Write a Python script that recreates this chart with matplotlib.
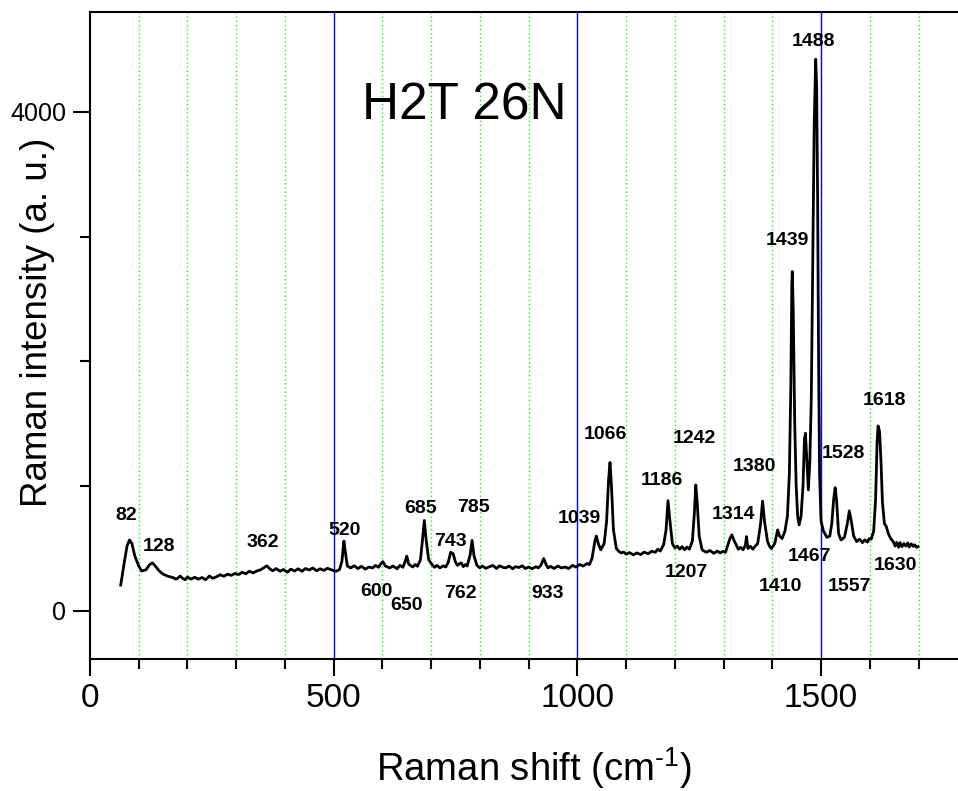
import matplotlib
matplotlib.use("Agg")
import matplotlib.pyplot as plt
from matplotlib.ticker import FixedLocator, MultipleLocator

plt.rcParams['font.family'] = ['Liberation Sans', 'DejaVu Sans']
plt.rcParams['mathtext.fontset'] = 'custom'
plt.rcParams['mathtext.rm'] = 'Liberation Sans'
plt.rcParams['mathtext.it'] = 'Liberation Sans:italic'
plt.rcParams['mathtext.bf'] = 'Liberation Sans:bold'

# Spectrum (Raman shift in cm^-1, intensity a.u.)
shift = [63, 70, 76, 81, 86, 92, 100, 106, 115, 122, 128, 134, 142, 150, 160, 170, 176, 180, 185,
         190, 195, 200, 207, 215, 222, 230, 237, 245, 252, 260, 267, 275, 282, 290, 297, 305, 312,
         320, 327, 335, 342, 350, 358, 363, 368, 375, 382, 390, 397, 405, 412, 420, 427, 435, 442,
         450, 457, 465, 472, 480, 487, 495, 505, 512, 517, 521, 524, 528, 535, 542, 550, 557, 565,
         572, 580, 586, 592, 597, 601, 606, 615, 622, 630, 636, 642, 647, 650, 654, 662, 667, 672,
         678, 682, 686, 690, 695, 702, 707, 712, 718, 725, 730, 735, 740, 745, 750, 754, 758, 762,
         766, 770, 774, 780, 784, 788, 794, 800, 805, 812, 820, 827, 834, 840, 847, 853, 860, 867,
         873, 880, 887, 893, 900, 907, 915, 920, 925, 931, 936, 940, 945, 952, 960, 967, 975, 982,
         990, 997, 1005, 1012, 1020, 1025, 1030, 1036, 1039, 1043, 1048, 1055, 1060, 1064,
         1067, 1070, 1074, 1080, 1085, 1090, 1095, 1100, 1107, 1115, 1122, 1130, 1137, 1145, 1152,
         1160, 1165, 1170, 1177, 1182, 1186, 1190, 1195, 1200, 1205, 1210, 1215, 1220, 1225, 1230,
         1236, 1240, 1243, 1246, 1250, 1256, 1260, 1265, 1272, 1280, 1287, 1293, 1299, 1304, 1308,
         1313, 1317, 1322, 1326, 1330, 1335, 1340, 1345, 1347, 1350, 1355, 1360, 1365, 1370, 1376,
         1380, 1384, 1390, 1394, 1398, 1405, 1411, 1415, 1420, 1426, 1431, 1435, 1438, 1440, 1441,
         1443, 1446, 1449, 1452, 1455, 1459, 1463, 1466, 1468, 1471, 1474, 1477, 1480, 1483, 1486,
         1489, 1491, 1493, 1495, 1497, 1500, 1505, 1512, 1518, 1522, 1526, 1529, 1532, 1536, 1541,
         1548, 1554, 1558, 1562, 1567, 1573, 1579, 1585, 1590, 1595, 1599, 1603, 1608, 1612, 1615,
         1617, 1620, 1623, 1626, 1630, 1634, 1638, 1643, 1648, 1652, 1655, 1659, 1662, 1666, 1670,
         1674, 1678, 1681, 1685, 1689, 1692, 1696, 1699]
intensity = [208, 380, 520, 569, 540, 440, 360, 320, 330, 370, 385, 360, 320, 295, 278, 268, 255, 262, 280,
             262, 250, 272, 255, 270, 255, 268, 250, 280, 262, 275, 290, 278, 295, 285, 300, 292, 310,
             298, 318, 305, 320, 330, 350, 362, 340, 322, 340, 318, 332, 310, 335, 320, 338, 318, 340,
             328, 345, 322, 338, 325, 342, 330, 318, 332, 400, 560, 470, 360, 345, 362, 340, 358, 335,
             352, 345, 365, 350, 380, 395, 360, 345, 360, 338, 365, 350, 400, 440, 375, 352, 372, 358,
             410, 560, 725, 560, 410, 370, 350, 365, 345, 362, 352, 390, 470, 460, 390, 365, 378, 385,
             355, 372, 360, 450, 565, 440, 365, 345, 360, 342, 355, 365, 340, 362, 350, 345, 360, 338,
             355, 348, 362, 340, 352, 338, 355, 345, 365, 420, 370, 345, 358, 340, 360, 345, 352, 340,
             365, 352, 372, 360, 380, 372, 420, 560, 600, 540, 490, 540, 720, 1050,
             1190, 1000, 650, 500, 478, 465, 472, 455, 468, 450, 465, 452, 472, 458, 478,
             470, 495, 480, 530, 650, 884, 720, 540, 505, 520, 495, 515, 490, 512, 495,
             560, 780, 1010, 860, 600, 490, 480, 470, 485, 462, 480, 465, 478, 470, 520,
             580, 610, 560, 530, 495, 510, 490, 530, 596, 500, 518, 495, 520, 540, 700,
             880, 720, 560, 520, 500, 540, 650, 600, 580, 640, 760, 1100, 1800, 2600, 2720,
             2400, 1500, 1000, 760, 690, 760, 1000, 1380, 1424, 1200, 970, 1200, 1700, 2800, 3900,
             4422, 4200, 3300, 2000, 1100, 720, 640, 590, 600, 700, 900, 988, 880, 620, 569,
             590, 700, 802, 720, 600, 556, 575, 548, 570, 552, 580, 575, 640, 900, 1350,
             1483, 1440, 1200, 870, 700, 676, 620, 580, 556, 520, 550, 510, 548, 515, 540,
             520, 545, 512, 538, 518, 530, 510, 515]

# Peak labels and where they are written
peak_labels = ['82', '128', '362', '520', '600', '650', '685', '743', '785', '762', '933',
               '1039', '1066', '1186', '1207', '1242', '1314', '1380', '1410', '1439',
               '1467', '1488', '1528', '1557', '1618', '1630']
label_x = [74, 142, 354, 523, 587, 650, 679, 740, 786, 759, 940,
           1005, 1057, 1174, 1224, 1241, 1320, 1364, 1416, 1432,
           1477, 1485, 1546, 1559, 1631, 1652]
label_y = [731, 477, 509, 605, 122, 4, 784, 523, 790, 103, 103,
           704, 1380, 1006, 271, 1345, 739, 1118, 162, 2936,
           397, 4531, 1225, 156, 1647, 330]

W, H = 958, 791
fig = plt.figure(figsize=(W / 100, H / 100), dpi=100)
ax = fig.add_axes([90 / W, (H - 659) / H, 867.5 / W, 647 / H])

ax.set_xlim(0, 1780)
ax.set_ylim(-385, 4800)

# vertical grid lines
for gx in range(100, 1800, 100):
    if gx % 500 == 0:
        ax.axvline(gx, color='#0000ff', lw=1.0, zorder=1)
    else:
        ax.axvline(gx, color='#00ff00', lw=1.0, ls=(0, (1, 2)), zorder=1)

ax.plot(shift, intensity, color='black', lw=2.0, zorder=3)

for t, lx, ly in zip(peak_labels, label_x, label_y):
    ax.text(lx, ly, t, ha='center', va='baseline', fontsize=14,
            fontweight='bold', zorder=4)

ax.text(769, 3941, 'H2T 26N', ha='center', va='baseline', fontsize=37)

ax.xaxis.set_major_locator(FixedLocator([0, 500, 1000, 1500]))
ax.xaxis.set_minor_locator(MultipleLocator(100))
ax.yaxis.set_major_locator(FixedLocator([0, 4000]))
ax.yaxis.set_minor_locator(FixedLocator([1000, 2000, 3000]))

ax.tick_params(axis='x', which='major', direction='out', length=12, width=1.5,
               labelsize=24, pad=5)
ax.tick_params(axis='x', which='minor', direction='out', length=7, width=1.5)
ax.tick_params(axis='y', which='major', direction='out', length=12, width=1.5,
               labelsize=18, pad=5)
ax.tick_params(axis='y', which='minor', direction='out', length=7, width=1.5)

for s in ax.spines.values():
    s.set_linewidth(1.5)
ax.spines['right'].set_visible(False)

ax.set_xlabel(r'Raman shift (cm$^{\text{-1}}$)', fontsize=27.5)
ax.xaxis.set_label_coords(0.512, -0.133)
ax.set_ylabel('Raman intensity (a. u.)', fontsize=26.5)
ax.yaxis.set_label_coords(-0.04, 0.521)

fig.savefig('out.png', dpi=100)
